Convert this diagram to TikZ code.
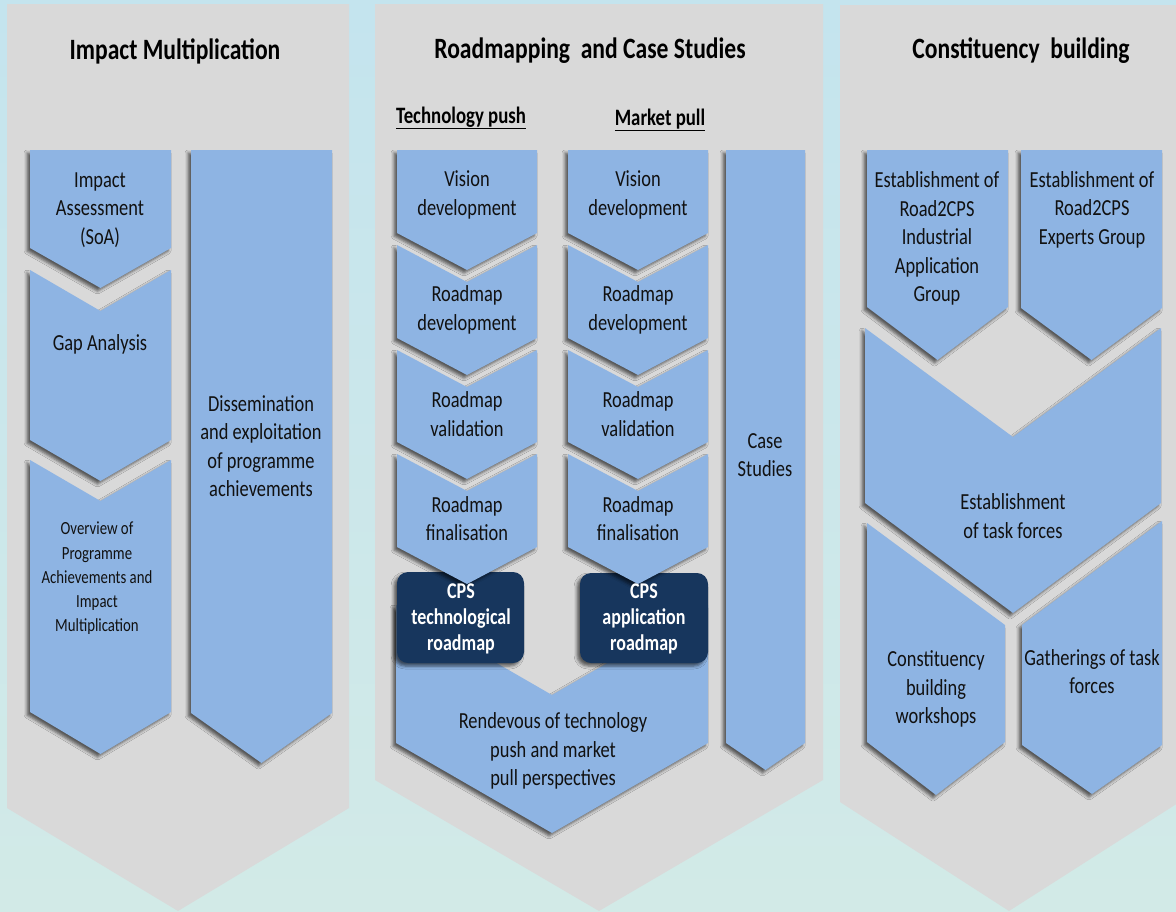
\documentclass[tikz,border=0pt]{standalone}
\usepackage{fontspec}
\setmainfont{Carlito}
\newfontfamily\tallfont[FakeStretch=0.8]{Carlito}
\usetikzlibrary{shadows.blur}
\definecolor{panelgray}{HTML}{D9D9D9}
\definecolor{cblue}{HTML}{8EB4E3}
\definecolor{navy}{HTML}{17365D}
\definecolor{bgtop}{HTML}{C4E4EE}
\definecolor{bgmid}{HTML}{EAF5F6}
\definecolor{bgbot}{HTML}{D2EAE7}
\definecolor{ink}{HTML}{111111}
\newcommand\chev[7][]{%
  \path[chevfill,#1] (#2,#4) -- ({(#2+#3)/2},#5) -- (#3,#4) -- (#3,#6) -- ({(#2+#3)/2},#7) -- (#2,#6) -- cycle;}
\begin{document}
\begin{tikzpicture}[x=1pt,y=-1pt,
  chevfill/.style={fill=cblue, blur shadow={shadow xshift=-3pt, shadow yshift=-3pt, shadow blur radius=3pt, shadow opacity=60}},
  panel/.style={fill=panelgray},
  title/.style={font=\tallfont\bfseries\fontsize{29.5}{32}\selectfont, text=black, inner sep=0},
  sub/.style={font=\tallfont\bfseries\fontsize{23.5}{26}\selectfont, text=black, inner sep=0},
  lbl/.style={font=\tallfont\fontsize{23}{28.5}\selectfont, align=center, inner sep=0, text=ink},
  small/.style={font=\tallfont\fontsize{18.5}{24.3}\selectfont, align=center, inner sep=0, text=ink},
  cpsbox/.style={fill=navy, rounded corners=11pt, blur shadow={shadow xshift=-3pt, shadow yshift=-3pt, shadow blur radius=3pt, shadow opacity=60}},
  cpstext/.style={font=\tallfont\bfseries\fontsize{22.5}{26}\selectfont, text=white, align=center, inner sep=0}]
\useasboundingbox (0,0) rectangle (1176,911);
% background
\shade[top color=bgtop, middle color=bgmid, bottom color=bgbot] (0,0) rectangle (1176,911);
% panels
\path[panel] (7,4) -- (349,4) -- (349,808) -- (178,911) -- (7,808) -- cycle;
\path[panel] (375,4) -- (823,4) -- (823,780) -- (599,911) -- (375,780) -- cycle;
\path[panel] (840,5) -- (1178,5) -- (1178,803) -- (1009,911) -- (840,802) -- cycle;
% titles
\node[title] (t1) at (175,51) {Impact Multiplication};
\node[title] (t2) at (590,51) {Roadmapping\ \ and Case Studies};
\node[title] (t3) at (1021,51) {Constituency\ \ building};
\node[sub] (tp) at (461,118) {\underline{Technology push}};
\node[sub] (mp) at (660,120) {\underline{Market pull}};
% panel 1
\chev{30}{171}{150}{150}{248}{288}
\chev{30}{171}{270}{311}{440}{481}
\chev{30}{171}{460}{501}{712}{754}
\chev{191}{332}{150}{150}{713}{763}
\node[lbl] (ia) at (100,210) {Impact\\Assessment\\(SoA)};
\node[lbl] (ga) at (100,344) {Gap Analysis};
\node[small] (ov) at (97,578.5) {Overview of\\Programme\\Achievements and\\Impact\\Multiplication};
\node[lbl] (de) at (261,446) {Dissemination\\and exploitation\\of programme\\achievements};
% panel 2
\chev{396}{708}{605}{695}{743}{833}
\path[cpsbox] (397,572) rectangle (524,663);
\path[cpsbox] (580,573) rectangle (708,663);
\foreach \a/\b in {397/537, 568/708}{
  \chev{\a}{\b}{150}{150}{233}{270}
  \chev{\a}{\b}{245}{282}{338}{375}
  \chev{\a}{\b}{350}{387}{442}{479}
  \chev{\a}{\b}{454}{491}{547}{584}
}
\chev{726}{805}{150}{150}{743}{770}
\node[lbl] (v1) at (467,195) {Vision\\development};
\node[lbl] (v2) at (638,195) {Vision\\development};
\node[lbl] (rd1) at (467,310) {Roadmap\\development};
\node[lbl] (rd2) at (638,310) {Roadmap\\development};
\node[lbl] (rv1) at (467,414) {Roadmap\\validation};
\node[lbl] (rv2) at (638,414) {Roadmap\\validation};
\node[lbl] (rf1) at (467,518.5) {Roadmap\\finalisation};
\node[lbl] (rf2) at (638,518.5) {Roadmap\\finalisation};
\node[cpstext] (cps1) at (461,619) {CPS\\technological\\roadmap};
\node[cpstext] (cps2) at (644,619) {CPS\\application\\roadmap};
\node[lbl] (rz) at (553,751) {Rendevous of technology\\push and market\\pull perspectives};
\node[lbl] (cs) at (765,455) {Case\\Studies};
% panel 3
\chev{867}{1008}{150}{150}{307}{360}
\chev{1021}{1162}{150}{150}{308}{360}
\chev{865}{1161}{328}{437}{503}{613}
\path[chevfill] (867,523) -- (1005,625) -- (1005,742) -- (936,795) -- (867,742) -- cycle;
\path[chevfill] (1022,625) -- (1162,521) -- (1162,745) -- (1092,794) -- (1022,745) -- cycle;
\node[lbl] (e1) at (937,238.5) {Establishment of\\Road2CPS\\Industrial\\Application\\Group};
\node[lbl] (e2) at (1092,209.5) {Establishment of\\Road2CPS\\Experts Group};
\node[lbl] (tf) at (1013,516) {Establishment\\of task forces};
\node[lbl] (cb) at (936,689) {Constituency\\building\\workshops};
\node[lbl] (gt) at (1092,671.5) {Gatherings of task\\forces};
\end{tikzpicture}
\end{document}
